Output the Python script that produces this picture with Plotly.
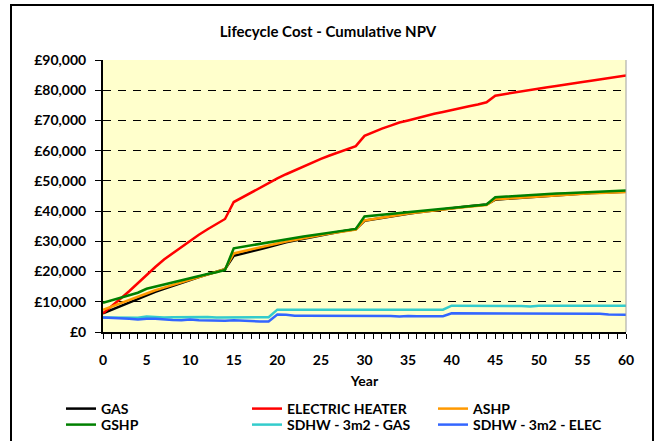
import plotly.graph_objects as go

years = list(range(0, 61))

gas = [6.2, 7.4, 8.6, 9.8, 11.0, 12.2, 13.3, 14.3, 15.2, 16.1,
       17.2, 18.2, 19.1, 19.9, 20.8, 25.2, 26.0, 26.7, 27.4, 28.1,
       29.0, 29.7, 30.3, 30.9, 31.5, 32.1, 32.6, 33.1, 33.6, 34.0,
       36.8, 37.3, 37.8, 38.3, 38.7, 39.1, 39.5, 39.9, 40.3, 40.6,
       41.0, 41.3, 41.6, 41.9, 42.2, 43.8, 44.0, 44.3, 44.5, 44.7,
       45.0, 45.2, 45.4, 45.5, 45.7, 45.8, 46.0, 46.1, 46.2, 46.3, 46.4]

electric = [6.2, 8.5, 11.0, 13.5, 16.2, 19.0, 21.5, 24.0, 26.1, 28.0,
            30.0, 32.2, 34.0, 35.8, 37.4, 43.0, 44.6, 46.1, 47.6, 49.2,
            50.8, 52.2, 53.5, 54.8, 56.1, 57.3, 58.4, 59.5, 60.5, 61.5,
            64.9, 66.2, 67.3, 68.3, 69.3, 70.0, 70.8, 71.5, 72.2, 72.8,
            73.5, 74.1, 74.7, 75.3, 76.0, 78.2, 78.7, 79.2, 79.7, 80.1,
            80.6, 81.0, 81.4, 81.9, 82.3, 82.7, 83.1, 83.6, 84.0, 84.4, 84.9]

ashp = [7.3, 8.4, 9.5, 10.6, 11.7, 12.9, 13.8, 14.7, 15.6, 16.4,
        17.4, 18.3, 19.2, 20.0, 20.8, 26.0, 26.7, 27.4, 28.0, 28.6,
        29.3, 29.9, 30.5, 31.1, 31.6, 32.1, 32.6, 33.1, 33.5, 33.9,
        36.9, 37.4, 37.9, 38.3, 38.8, 39.2, 39.5, 39.9, 40.2, 40.6,
        40.9, 41.2, 41.5, 41.8, 42.0, 43.9, 44.1, 44.3, 44.5, 44.7,
        44.9, 45.1, 45.3, 45.4, 45.6, 45.7, 45.9, 46.0, 46.1, 46.2, 46.3]

gshp = [9.7, 10.5, 11.3, 12.1, 13.0, 14.3, 15.0, 15.7, 16.4, 17.1,
        18.0, 18.6, 19.2, 19.8, 20.5, 27.7, 28.2, 28.7, 29.2, 29.7,
        30.3, 30.8, 31.2, 31.6, 32.0, 32.4, 32.8, 33.2, 33.6, 34.1,
        38.2, 38.5, 38.8, 39.1, 39.4, 39.7, 39.9, 40.1, 40.4, 40.7,
        41.0, 41.3, 41.6, 41.9, 42.2, 44.6, 44.8, 45.0, 45.2, 45.4,
        45.6, 45.7, 45.8, 45.9, 46.0, 46.1, 46.3, 46.4, 46.5, 46.6, 46.8]

sdhw_gas = [4.8, 4.8, 4.8, 4.8, 4.7, 5.1, 4.9, 4.8, 4.9, 4.9,
            5.1, 5.0, 5.0, 4.8, 4.8, 5.0, 5.0, 4.9, 4.9, 4.9,
            7.4, 7.4, 7.4, 7.4, 7.4, 7.5, 7.5, 7.5, 7.6, 7.4,
            7.4, 7.4, 7.5, 7.6, 7.5, 7.5, 7.4, 7.4, 7.4, 7.4,
            8.7, 8.7, 8.5, 8.5, 8.5, 8.7, 8.7, 8.7, 8.6, 8.4,
            8.7, 8.7, 8.7, 8.7, 8.7, 8.7, 8.7, 8.7, 8.7, 8.7, 8.7]

sdhw_elec = [4.8, 4.7, 4.6, 4.4, 4.1, 4.4, 4.4, 4.1, 4.0, 3.9,
             4.1, 3.9, 3.8, 3.7, 3.7, 3.9, 3.7, 3.6, 3.5, 3.5,
             5.8, 5.7, 5.4, 5.4, 5.4, 5.4, 5.4, 5.4, 5.3, 5.3,
             5.3, 5.3, 5.3, 5.3, 5.1, 5.3, 5.2, 5.2, 5.2, 5.2,
             6.2, 6.2, 6.2, 6.0, 6.0, 6.1, 6.0, 6.0, 6.0, 6.0,
             6.0, 6.0, 6.0, 6.0, 6.0, 6.0, 6.0, 6.0, 5.8, 5.7, 5.7]

series = [
    ("GAS", gas, "#000000", "legend"),
    ("ELECTRIC HEATER", electric, "#FF0000", "legend"),
    ("ASHP", ashp, "#FF9900", "legend"),
    ("GSHP", gshp, "#008000", "legend2"),
    ("SDHW - 3m2 - GAS", sdhw_gas, "#33CCCC", "legend2"),
    ("SDHW - 3m2 - ELEC", sdhw_elec, "#3366FF", "legend2"),
]

FONT = "Lato"

fig = go.Figure()
for name, vals, color, leg in series:
    fig.add_trace(go.Scatter(
        x=years, y=[v * 1000 for v in vals], name=name, mode="lines",
        line=dict(color=color, width=2.5), legend=leg,
    ))

W, H = 659, 441
L, R, T, B = 103, 33, 60, 109
pw, ph = W - L - R, H - T - B

def px_x(px):
    return (px - L) / pw

def px_y(py):
    return (H - B - py) / ph

legend_style = dict(orientation="h", x=px_x(61), xanchor="left", yanchor="top",
                    entrywidth=141, entrywidthmode="pixels", bgcolor="rgba(0,0,0,0)",
                    font=dict(family=FONT, size=14, color="black", weight="bold"),
                    traceorder="normal")

fig.update_layout(
    width=W, height=H,
    margin=dict(l=L, r=R, t=T, b=B, autoexpand=False),
    paper_bgcolor="white",
    plot_bgcolor="#FFFFCC",
    font=dict(family=FONT, size=14, color="black", weight="bold"),
    title=dict(text="Lifecycle Cost - Cumulative NPV", x=328 / W, xanchor="center",
               y=1 - 32 / H, yanchor="middle",
               font=dict(family=FONT, size=15, color="black", weight="bold")),
    showlegend=True,
    legend=dict(legend_style, y=px_y(393)),
    legend2=dict(legend_style, y=px_y(409)),
    xaxis=dict(range=[0, 60], dtick=5, tick0=0, ticks="outside", ticklen=5, tickwidth=1,
               tickcolor="black", showline=True, linecolor="black", linewidth=2,
               showgrid=False, zeroline=False, ticklabelstandoff=9,
               minor=dict(dtick=1, ticks="outside", ticklen=5, tickwidth=1, tickcolor="black",
                          showgrid=False),
               title=dict(text="Year", standoff=9,
                          font=dict(family=FONT, size=14, color="black", weight="bold"))),
    yaxis=dict(range=[0, 90000], dtick=10000, tick0=0, tickprefix="£", tickformat=",d",
               ticks="outside", ticklen=6, tickwidth=1, tickcolor="black",
               showline=True, linecolor="black", linewidth=2,
               showgrid=True, gridcolor="#000000", gridwidth=1, griddash="8px,7px",
               zeroline=False, ticklabelstandoff=6),
    shapes=[
        dict(type="line", xref="paper", yref="paper", x0=1, x1=1, y0=0, y1=1,
             line=dict(color="#A0A0A0", width=1)),
        dict(type="rect", xref="paper", yref="paper",
             x0=px_x(11), x1=px_x(653), y0=px_y(443), y1=px_y(5),
             line=dict(color="black", width=2), fillcolor="rgba(0,0,0,0)", layer="above"),
    ],
)

fig.write_html("out.html", config={"displayModeBar": False},
               post_script="document.body.style.margin='0';")
